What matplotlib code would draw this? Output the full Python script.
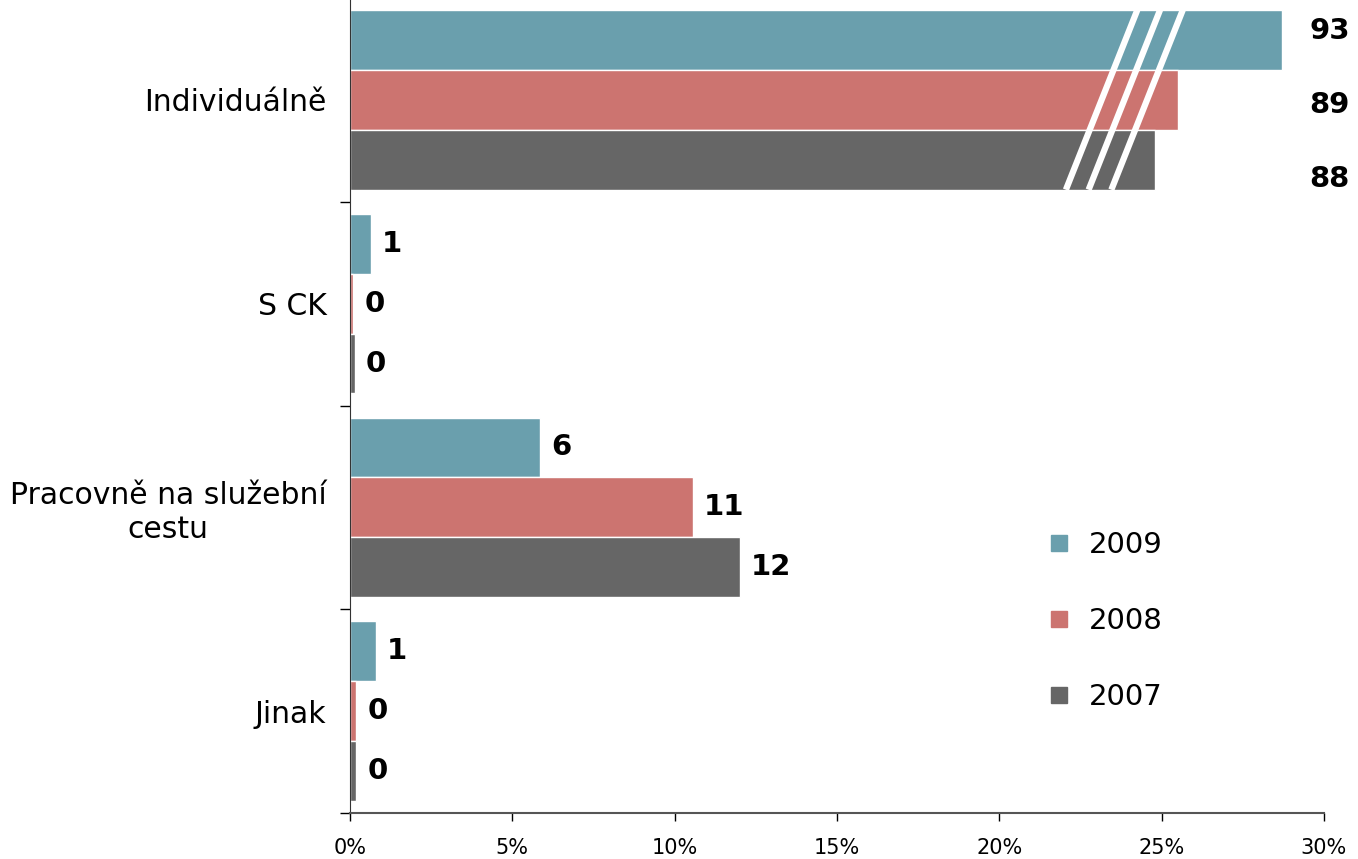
import numpy as np
import matplotlib
matplotlib.use('Agg')
import matplotlib.pyplot as plt
from matplotlib.lines import Line2D

categories = ['Individuálně', 'S CK', 'Pracovně na služební\ncestu', 'Jinak']
years = ['2009', '2008', '2007']
# drawn bar lengths (%), Individuálně bars are shown shortened (axis break)
v2009 = [28.7, 0.65, 5.85, 0.8]
v2008 = [25.5, 0.1, 10.55, 0.2]
v2007 = [24.8, 0.15, 12.0, 0.2]
# labels printed next to the bars
lab2009 = ['93', '1', '6', '1']
lab2008 = ['89', '0', '11', '0']
lab2007 = ['88', '0', '12', '0']

colors = ['#6A9FAD', '#CC7470', '#666666']

fig = plt.figure(figsize=(13.58, 8.59), dpi=100)
ax = fig.add_axes([350/1358, 1 - 813/859, 974/1358, 815/859])

y = np.arange(len(categories))
h = 0.294
series = [v2009, v2008, v2007]
labels = [lab2009, lab2008, lab2007]
offs = [-h, 0, h]

for vals, labs, c, o in zip(series, labels, colors, offs):
    ax.barh(y + o, vals, height=h, color=c, edgecolor='white', linewidth=1)
    for i, (v, l) in enumerate(zip(vals, labs)):
        if i == 0:
            continue
        ax.annotate(l, (v, i + o), xytext=(8, 0), textcoords='offset points',
                    ha='left', va='center', fontsize=21, fontweight='bold')

# labels for the broken bars at the right
for l, dy in zip([lab2009[0], lab2008[0], lab2007[0]], [-0.34, 0.025, 0.39]):
    ax.text(30.8, 0 + dy, l, ha='right', va='center', fontsize=21,
            fontweight='bold', clip_on=False)

# break marks
top = -h - h/2
bot = h + h/2
for xb in [22.05, 22.75, 23.45]:
    ax.plot([xb, xb + 2.2], [bot, top], color='white', lw=4.5,
            solid_capstyle='butt', zorder=5)

ax.set_xlim(0, 30)
ax.set_ylim(3.5, -0.5)
ax.set_xticks(np.arange(0, 31, 5))
ax.set_xticklabels([f'{t}%' for t in range(0, 31, 5)], fontsize=15)
ax.set_yticks(y)
ax.set_yticklabels(categories, fontsize=21.5, ha='right')
ax.tick_params(axis='y', length=0, pad=17)
ax.set_yticks(np.arange(-0.5, 3.6, 1), minor=True)
ax.tick_params(axis='y', which='minor', length=7, width=1, direction='out')
ax.tick_params(axis='x', length=6, width=1, direction='out', pad=12)
for lbl in ax.get_yticklabels():
    lbl.set_multialignment('center')

ax.spines['top'].set_visible(False)
ax.spines['right'].set_visible(False)
ax.spines['left'].set_color('#333333')
ax.spines['bottom'].set_color('#555555')
ax.spines['bottom'].set_linewidth(1.5)

handles = [Line2D([], [], marker='s', linestyle='none', markersize=11.5,
                  color=c) for c in colors]
leg = ax.legend(handles, years, loc='center left', bbox_to_anchor=(0.7125, 0.2356),
                frameon=False, fontsize=21, labelspacing=1.65, handletextpad=0.55,
                handlelength=1.0, borderpad=0, borderaxespad=0)

fig.savefig('out.png', dpi=100)
